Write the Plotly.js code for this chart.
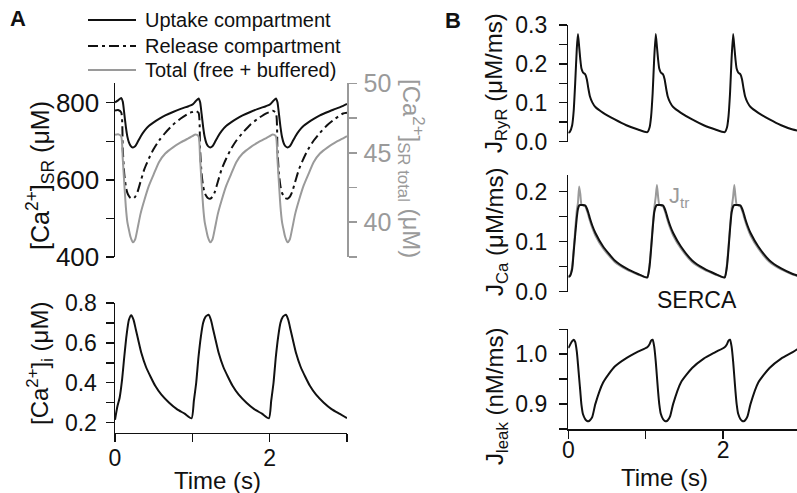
<!DOCTYPE html>
<html>
<head>
<meta charset="utf-8">
<script src="https://cdn.plot.ly/plotly-3.0.1.min.js"></script>
<style>html,body{margin:0;padding:0;background:#fff;}#chart{width:797px;height:493px;}</style>
</head>
<body>
<div id="chart"></div>
<script>
// ---------- Panel A data ----------
const tA = [0,0.04,0.08,0.10,0.12,0.14,0.16,0.18,0.20,0.23,0.26,0.29,0.33,0.38,0.44,0.50,0.57,0.65,0.75,0.85,0.95,
  1.00,1.04,1.08,1.10,1.12,1.14,1.16,1.18,1.20,1.23,1.26,1.29,1.33,1.38,1.44,1.50,1.57,1.65,1.75,1.85,1.95,
  2.00,2.04,2.08,2.10,2.12,2.14,2.16,2.18,2.20,2.23,2.26,2.29,2.33,2.38,2.44,2.50,2.57,2.65,2.75,2.85,2.95,3.00];
const uptake = [801,806,812,803,772,738,712,697,689,684,687,697,712,727,740,749,758,767,776,784,791,
  795,803,811,802,771,737,711,696,688,684,687,697,712,727,740,749,758,767,776,784,791,
  795,803,811,802,771,737,711,696,688,684,687,697,712,727,740,749,758,767,776,784,792,797];
const release = [780,781,775,680,615,583,566,558,553,551,556,568,595,628,656,680,702,722,743,759,772,
  776,779,774,680,615,583,566,558,553,551,556,568,595,628,656,680,702,722,743,759,772,
  776,779,774,680,615,583,566,558,553,551,556,568,595,628,656,680,702,722,743,759,772,774];
const totalSR = [46.3,46.35,46.2,44.6,42.8,41.1,40.0,39.45,38.95,38.55,38.75,39.5,40.6,41.6,42.65,43.45,44.35,44.95,45.4,45.75,46.05,
  46.2,46.33,46.2,44.6,42.8,41.1,40.0,39.45,38.95,38.55,38.75,39.5,40.6,41.6,42.65,43.45,44.35,44.95,45.4,45.75,46.05,
  46.2,46.33,46.2,44.6,42.8,41.1,40.0,39.45,38.95,38.55,38.75,39.5,40.6,41.6,42.65,43.45,44.35,44.95,45.4,45.75,46.05,46.2];

const tCai = [0,0.03,0.06,0.09,0.12,0.15,0.18,0.21,0.24,0.27,0.30,0.34,0.40,0.46,0.52,0.60,0.70,0.80,0.90,0.99,
  1.02,1.05,1.08,1.11,1.14,1.17,1.21,1.24,1.27,1.30,1.34,1.40,1.46,1.52,1.60,1.70,1.80,1.90,1.99,
  2.02,2.05,2.08,2.11,2.14,2.17,2.21,2.24,2.27,2.30,2.34,2.40,2.46,2.52,2.60,2.70,2.80,2.90,3.00];
const cai = [0.215,0.28,0.325,0.41,0.53,0.64,0.715,0.738,0.715,0.665,0.615,0.55,0.48,0.43,0.385,0.34,0.30,0.268,0.245,0.222,
  0.31,0.40,0.53,0.63,0.70,0.73,0.74,0.715,0.665,0.615,0.55,0.48,0.43,0.385,0.34,0.30,0.268,0.245,0.222,
  0.31,0.40,0.53,0.63,0.70,0.73,0.74,0.715,0.665,0.615,0.55,0.48,0.43,0.385,0.34,0.30,0.268,0.245,0.223];

// ---------- Panel B data ----------
const tB = [0,0.02,0.05,0.07,0.09,0.11,0.125,0.14,0.155,0.17,0.19,0.22,0.24,0.26,0.28,0.31,0.35,0.45,0.6,0.75,0.9,
  1.02,1.05,1.07,1.09,1.11,1.13,1.145,1.16,1.175,1.195,1.225,1.245,1.265,1.285,1.315,1.355,1.455,1.6,1.75,1.9,
  2.02,2.05,2.07,2.09,2.11,2.13,2.145,2.16,2.175,2.195,2.225,2.245,2.265,2.285,2.315,2.355,2.455,2.6,2.75,2.9,3.0];
const jRyR = [0.022,0.025,0.042,0.08,0.155,0.24,0.277,0.245,0.212,0.188,0.178,0.173,0.16,0.136,0.116,0.101,0.089,0.074,0.057,0.042,0.031,
  0.024,0.036,0.065,0.125,0.215,0.277,0.245,0.212,0.188,0.178,0.173,0.16,0.136,0.116,0.101,0.089,0.074,0.057,0.042,0.031,
  0.024,0.036,0.065,0.125,0.215,0.277,0.245,0.212,0.188,0.178,0.173,0.16,0.136,0.116,0.101,0.089,0.074,0.057,0.042,0.031,0.027];
const jCa = [0.030,0.031,0.045,0.08,0.115,0.148,0.165,0.172,0.173,0.173,0.173,0.172,0.166,0.157,0.146,0.132,0.117,0.09,0.062,0.046,0.035,
  0.028,0.05,0.085,0.125,0.158,0.17,0.173,0.173,0.173,0.173,0.172,0.166,0.157,0.146,0.132,0.117,0.09,0.062,0.046,0.035,
  0.028,0.05,0.085,0.125,0.158,0.17,0.173,0.173,0.173,0.173,0.172,0.166,0.157,0.146,0.132,0.117,0.09,0.062,0.046,0.035,0.030];
const jTr = [0.028,0.030,0.05,0.085,0.125,0.162,0.178,0.21,0.195,0.174,0.172,0.17,0.162,0.152,0.141,0.127,0.112,0.086,0.059,0.044,0.034,
  0.028,0.055,0.09,0.13,0.165,0.19,0.213,0.19,0.174,0.172,0.17,0.162,0.152,0.141,0.127,0.112,0.086,0.059,0.044,0.034,
  0.028,0.055,0.09,0.13,0.165,0.19,0.213,0.19,0.174,0.172,0.17,0.162,0.152,0.141,0.127,0.112,0.086,0.059,0.044,0.034,0.029];
const jLeak = [1.012,1.018,1.026,1.029,1.024,1.005,0.98,0.952,0.925,0.898,0.879,0.869,0.866,0.865,0.867,0.874,0.9,0.943,0.975,0.992,1.005,
  1.014,1.02,1.027,1.029,1.015,0.985,0.955,0.925,0.9,0.88,0.869,0.866,0.865,0.867,0.875,0.9,0.943,0.972,0.991,1.004,
  1.014,1.02,1.027,1.029,1.015,0.985,0.955,0.925,0.9,0.88,0.869,0.866,0.865,0.867,0.875,0.9,0.943,0.972,0.991,1.004,1.014];

const xTickVals = [0,1,2,3];
const xTickText = ['0','','2',''];
const legendNames = ['Uptake compartment','Release compartment','Total (free + buffered)'];

// ---------- layout helpers ----------
const W = 797, H = 493;
const px = x => x / W;
const py = y => 1 - y / H;
const FONT = 'Liberation Sans, Arial, Helvetica, sans-serif';
const GRAY = '#9a9a9a';
const BLACK = '#111';
const DASHDOT = '10px,4px,3px,4px';

const legendStyles = [
  {color: BLACK, dash: 'solid'},
  {color: BLACK, dash: DASHDOT},
  {color: GRAY, dash: 'solid'}
];

const traces = [
  {x: tA, y: uptake, xaxis: 'x', yaxis: 'y', mode: 'lines', name: legendNames[0],
   line: {color: BLACK, width: 2, shape: 'spline', smoothing: 0.6}},
  {x: tA, y: release, xaxis: 'x', yaxis: 'y', mode: 'lines', name: legendNames[1],
   line: {color: BLACK, width: 2, dash: DASHDOT, shape: 'spline', smoothing: 0.6}},
  {x: tA, y: totalSR, xaxis: 'x', yaxis: 'y2', mode: 'lines', name: legendNames[2],
   line: {color: GRAY, width: 2, shape: 'spline', smoothing: 0.6}},
  {x: tCai, y: cai, xaxis: 'x2', yaxis: 'y3', mode: 'lines',
   line: {color: BLACK, width: 2, shape: 'spline', smoothing: 0.6}},
  {x: tB, y: jRyR, xaxis: 'x3', yaxis: 'y4', mode: 'lines',
   line: {color: BLACK, width: 2, shape: 'spline', smoothing: 0.5}},
  {x: tB, y: jTr, xaxis: 'x4', yaxis: 'y5', mode: 'lines',
   line: {color: GRAY, width: 2, shape: 'spline', smoothing: 0.5}},
  {x: tB, y: jCa, xaxis: 'x4', yaxis: 'y5', mode: 'lines',
   line: {color: BLACK, width: 2, shape: 'spline', smoothing: 0.5}},
  {x: tB, y: jLeak, xaxis: 'x5', yaxis: 'y6', mode: 'lines',
   line: {color: BLACK, width: 2, shape: 'spline', smoothing: 0.6}}
];

const domA = [px(115), px(347)];
const domB = [px(568.3), 1];

function hiddenX(dom, anchor, range) {
  return {domain: dom, anchor: anchor, range: range, showline: false, showticklabels: false,
          ticks: '', showgrid: false, zeroline: false, fixedrange: true};
}
function shownX(dom, anchor, range, size, standoff) {
  return {domain: dom, anchor: anchor, range: range, showline: true, linecolor: BLACK, linewidth: 1.5,
          ticks: 'outside', ticklen: 8, tickwidth: 1.5, tickcolor: BLACK,
          tickvals: xTickVals, ticktext: xTickText, tickfont: {size: size, color: BLACK},
          ticklabelstandoff: standoff, showgrid: false, zeroline: false};
}
function yAx(dom, anchor, range, dtick, tick0, minor, fmt, size, standoff, color) {
  color = color || BLACK;
  const ax = {anchor: anchor, range: range, showline: true, linecolor: color, linewidth: 1.5,
          ticks: 'outside', ticklen: 8, tickwidth: 1.5, tickcolor: color,
          dtick: dtick, tick0: tick0, tickformat: fmt, tickfont: {size: size, color: color},
          ticklabelstandoff: standoff,
          minor: {dtick: minor, ticks: 'outside', ticklen: 8, tickwidth: 1.5, tickcolor: color, showgrid: false},
          showgrid: false, zeroline: false};
  if (dom) ax.domain = dom;
  return ax;
}

const y2 = yAx(null, 'x', [37.49, 50.01], 5, 40, 2.5, 'd', 25, 2, GRAY);
y2.overlaying = 'y';
y2.side = 'right';

const textItems = [
  {text: '<b>A</b>', x: px(18), y: py(18), size: 22},
  {text: '<b>B</b>', x: px(453), y: py(20), size: 22},
  {text: '[Ca<sup>2+</sup>]<sub>SR</sub> (μM)', x: px(40), y: py(176), size: 25, angle: -90},
  {text: '[Ca<sup>2+</sup>]<sub>SR total</sub> (μM)', x: px(411), y: py(168), size: 24, angle: 90, color: GRAY},
  {text: '[Ca<sup>2+</sup>]<sub>i</sub> (μM)', x: px(40), y: py(364), size: 24, angle: -90},
  {text: 'J<sub>RyR</sub> (μM/ms)', x: px(496), y: py(83), size: 24, angle: -90},
  {text: 'J<sub>Ca</sub> (μM/ms)', x: px(496), y: py(232), size: 24, angle: -90},
  {text: 'J<sub>leak</sub> (nM/ms)', x: px(496), y: py(397), size: 24, angle: -90},
  {text: 'Time (s)', x: px(218), y: py(480), size: 24},
  {text: 'Time (s)', x: px(664), y: py(477), size: 24},
  {text: 'SERCA', x: px(697), y: py(300), size: 23},
  {text: 'J<sub>tr</sub>', x: px(667), y: py(197), size: 22, color: GRAY, xanchor: 'left'}
];
// legend texts (manual legend for exact spacing)
const legendRowsY = [20, 46, 70];
legendNames.forEach((n, i) => textItems.push({text: n, x: px(143), y: py(legendRowsY[i]), size: 20, xanchor: 'left'}));

const ann = textItems.map(a => ({
  text: a.text, x: a.x, y: a.y, xref: 'paper', yref: 'paper', showarrow: false,
  xanchor: a.xanchor || 'center', yanchor: 'middle', textangle: a.angle || 0,
  font: {family: FONT, size: a.size, color: a.color || BLACK}
}));

const shapes = legendStyles.map((s, i) => ({
  type: 'line', xref: 'paper', yref: 'paper',
  x0: px(88), x1: px(136), y0: py(legendRowsY[i]), y1: py(legendRowsY[i]),
  line: {color: s.color, width: 2, dash: s.dash}
}));

const layout = {
  width: W, height: H,
  margin: {l: 0, r: 0, t: 0, b: 0},
  paper_bgcolor: '#fff', plot_bgcolor: 'rgba(0,0,0,0)',
  font: {family: FONT, color: BLACK},
  showlegend: false,
  xaxis: hiddenX(domA, 'y', [0, 3]),
  yaxis: yAx([py(257), py(83.4)], 'x', [399.9, 850.1], 200, 400, 100, 'd', 26, 1),
  yaxis2: y2,
  xaxis2: shownX(domA, 'y3', [0, 3], 23, -4),
  yaxis3: yAx([py(432.7), py(302.7)], 'x2', [0.15, 0.8005], 0.2, 0.2, 0.1, '.1f', 23, 4),
  xaxis3: hiddenX(domB, 'y4', [0, 2.955]),
  yaxis4: yAx([py(141.7), py(25)], 'x3', [-0.0005, 0.3005], 0.1, 0, 0.05, '.1f', 23, 7),
  xaxis4: hiddenX(domB, 'y5', [0, 2.955]),
  yaxis5: yAx([py(291.7), py(175)], 'x4', [-0.0005, 0.233], 0.1, 0, 0.05, '.1f', 23, 7),
  xaxis5: shownX(domB, 'y6', [0, 2.955], 23, -8),
  yaxis6: yAx([py(429), py(329)], 'x5', [0.8495, 1.0505], 0.1, 0.9, 0.05, '.1f', 23, 7),
  annotations: ann,
  shapes: shapes
};

Plotly.newPlot('chart', traces, layout, {staticPlot: true, displayModeBar: false});
</script>
</body>
</html>
